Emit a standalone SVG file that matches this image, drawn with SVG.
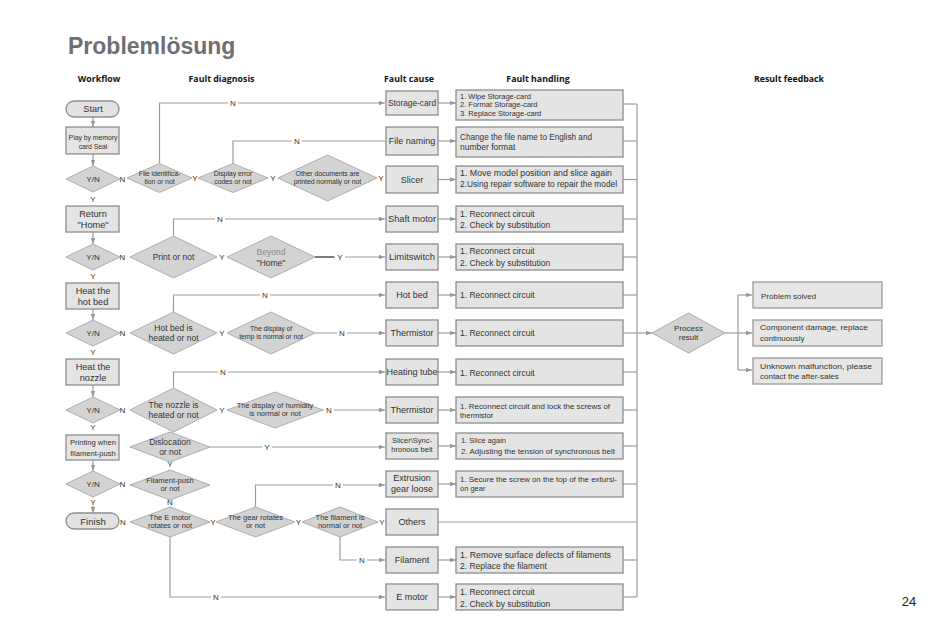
<svg xmlns="http://www.w3.org/2000/svg" width="950" height="633" viewBox="0 0 950 633">
<defs>
<marker id="ar" viewBox="0 0 8 6" refX="8" refY="3" markerWidth="6" markerHeight="4.5" orient="auto" markerUnits="userSpaceOnUse">
<path d="M0,0 L8,3 L0,6 z" fill="#999"/>
</marker>
<style>
.box{fill:#e4e4e4;stroke:#8e8e8e;stroke-width:1.3}
.rbox{fill:#e6e6e6;stroke:#9a9a9a;stroke-width:1.3}
.pill{fill:#e2e2e2;stroke:#8e8e8e;stroke-width:1.3}
.dia{fill:#d3d3d3;stroke:#adadad;stroke-width:1}
.ln{stroke:#9c9c9c;stroke-width:1.2;fill:none}
.gap{fill:#fff}
.t{font-family:"Liberation Sans",Arial,sans-serif;fill:#333;font-size:8px;text-anchor:middle}
.l{text-anchor:start}
.s{font-size:7px;letter-spacing:-0.1px}
.m{font-size:7.5px}
.b{font-size:8.5px}
.w{font-size:9.2px}
.c{font-size:9px}
.h{font-size:8.5px}
.lb{font-family:"Liberation Sans",Arial,sans-serif;fill:#333;font-size:8px;text-anchor:middle}
.hd{font-family:"Open Sans","DejaVu Sans",sans-serif;font-weight:bold;font-size:8.8px;fill:#111;text-anchor:middle}
</style>
</defs>
<rect width="950" height="633" fill="#fff"/>
<text x="68" y="53.5" font-family="Liberation Sans,Arial,sans-serif" font-weight="bold" font-size="23" fill="#707070">Problemlösung</text>
<g id="headers">
<text class="hd" x="99" y="82">Workflow</text>
<text class="hd" x="221.5" y="82">Fault diagnosis</text>
<text class="hd" x="409" y="82">Fault cause</text>
<text class="hd" x="538" y="82">Fault handling</text>
<text class="hd" x="789" y="82">Result  feedback</text>
</g>

<g id="connectors">
<line class="ln" x1="93" y1="117" x2="93" y2="127" marker-end="url(#ar)"/>
<line class="ln" x1="93" y1="154" x2="93" y2="166" marker-end="url(#ar)"/>
<line class="ln" x1="93" y1="232" x2="93" y2="244" marker-end="url(#ar)"/>
<line class="ln" x1="93" y1="309" x2="93" y2="320" marker-end="url(#ar)"/>
<line class="ln" x1="93" y1="385" x2="93" y2="397" marker-end="url(#ar)"/>
<line class="ln" x1="93" y1="460" x2="93" y2="471" marker-end="url(#ar)"/>
<line class="ln" x1="93" y1="506" x2="93" y2="513" marker-end="url(#ar)"/>
<polyline class="ln" points="159.5,163.5 159.5,103 385,103" marker-end="url(#ar)"/>
<polyline class="ln" points="233,163.5 233,141 385,141"/>
<polyline class="ln" points="173.5,236 173.5,219 385,219" marker-end="url(#ar)"/>
<line class="ln" x1="315" y1="257" x2="385" y2="257" marker-end="url(#ar)"/>
<line stroke="#666" stroke-width="1.6" x1="315" y1="257" x2="334" y2="257"/>
<polyline class="ln" points="173.5,312 173.5,295 385,295" marker-end="url(#ar)"/>
<line class="ln" x1="315" y1="333" x2="385" y2="333" marker-end="url(#ar)"/>
<polyline class="ln" points="173.5,388 173.5,372 385,372" marker-end="url(#ar)"/>
<line class="ln" x1="323" y1="410" x2="385" y2="410" marker-end="url(#ar)"/>
<line class="ln" x1="210" y1="447" x2="385" y2="447" marker-end="url(#ar)"/>
<polyline class="ln" points="255.5,507 255.5,485 385,485" marker-end="url(#ar)"/>
<polyline class="ln" points="340,537 340,560 385,560" marker-end="url(#ar)"/>
<polyline class="ln" points="170,537 170,597 385,597" marker-end="url(#ar)"/>
<line class="ln" x1="438" y1="103" x2="456" y2="103" marker-end="url(#ar)"/>
<line class="ln" x1="438" y1="141" x2="456" y2="141" marker-end="url(#ar)"/>
<line class="ln" x1="438" y1="179.5" x2="456" y2="179.5" marker-end="url(#ar)"/>
<line class="ln" x1="438" y1="219" x2="456" y2="219" marker-end="url(#ar)"/>
<line class="ln" x1="438" y1="257" x2="456" y2="257" marker-end="url(#ar)"/>
<line class="ln" x1="438" y1="295" x2="456" y2="295" marker-end="url(#ar)"/>
<line class="ln" x1="438" y1="333" x2="456" y2="333" marker-end="url(#ar)"/>
<line class="ln" x1="438" y1="372" x2="456" y2="372" marker-end="url(#ar)"/>
<line class="ln" x1="438" y1="410" x2="456" y2="410" marker-end="url(#ar)"/>
<line class="ln" x1="438" y1="446" x2="456" y2="446" marker-end="url(#ar)"/>
<line class="ln" x1="438" y1="484" x2="456" y2="484" marker-end="url(#ar)"/>
<line class="ln" x1="438" y1="522" x2="637" y2="522"/>
<line class="ln" x1="438" y1="560" x2="456" y2="560" marker-end="url(#ar)"/>
<line class="ln" x1="438" y1="597" x2="456" y2="597" marker-end="url(#ar)"/>
<line class="ln" x1="637" y1="104" x2="637" y2="597"/>
<line class="ln" x1="623" y1="104" x2="637" y2="104"/>
<line class="ln" x1="623" y1="141" x2="637" y2="141"/>
<line class="ln" x1="623" y1="179.5" x2="637" y2="179.5"/>
<line class="ln" x1="623" y1="219" x2="637" y2="219"/>
<line class="ln" x1="623" y1="257" x2="637" y2="257"/>
<line class="ln" x1="623" y1="295" x2="637" y2="295"/>
<line class="ln" x1="623" y1="333" x2="637" y2="333"/>
<line class="ln" x1="623" y1="372" x2="637" y2="372"/>
<line class="ln" x1="623" y1="410" x2="637" y2="410"/>
<line class="ln" x1="623" y1="446" x2="637" y2="446"/>
<line class="ln" x1="623" y1="484" x2="637" y2="484"/>
<line class="ln" x1="623" y1="560" x2="637" y2="560"/>
<line class="ln" x1="623" y1="597" x2="637" y2="597"/>
<line class="ln" x1="637" y1="333" x2="652" y2="333" marker-end="url(#ar)"/>
<line class="ln" x1="725" y1="333" x2="738" y2="333"/>
<line class="ln" x1="738" y1="295" x2="738" y2="370"/>
<line class="ln" x1="738" y1="295" x2="752" y2="295" marker-end="url(#ar)"/>
<line class="ln" x1="738" y1="333" x2="752" y2="333" marker-end="url(#ar)"/>
<line class="ln" x1="738" y1="370" x2="752" y2="370" marker-end="url(#ar)"/>
<rect class="gap" x="228" y="99" width="10" height="8"/>
<rect class="gap" x="292" y="137" width="10" height="8"/>
<rect class="gap" x="215" y="215" width="10" height="8"/>
<rect class="gap" x="335" y="253" width="10" height="8"/>
<rect class="gap" x="260" y="291" width="10" height="8"/>
<rect class="gap" x="337" y="329" width="10" height="8"/>
<rect class="gap" x="218" y="368" width="10" height="8"/>
<rect class="gap" x="324" y="406" width="10" height="8"/>
<rect class="gap" x="262" y="443" width="10" height="8"/>
<rect class="gap" x="333" y="481" width="10" height="8"/>
<rect class="gap" x="357" y="556" width="10" height="8"/>
<rect class="gap" x="211" y="593" width="10" height="8"/>
<text class="lb" x="233" y="106">N</text>
<text class="lb" x="297" y="144">N</text>
<text class="lb" x="220" y="222">N</text>
<text class="lb" x="340" y="260">Y</text>
<text class="lb" x="265" y="298">N</text>
<text class="lb" x="342" y="336">N</text>
<text class="lb" x="223" y="375">N</text>
<text class="lb" x="329" y="413">N</text>
<text class="lb" x="267" y="450">Y</text>
<text class="lb" x="338" y="488">N</text>
<text class="lb" x="362" y="563">N</text>
<text class="lb" x="216" y="600">N</text>
<text class="lb" x="93" y="202">Y</text>
<text class="lb" x="93" y="279">Y</text>
<text class="lb" x="93" y="355">Y</text>
<text class="lb" x="93" y="430">Y</text>
<text class="lb" x="93" y="505">Y</text>
<text class="lb" x="122.5" y="182">N</text>
<text class="lb" x="122.5" y="260">N</text>
<text class="lb" x="122.5" y="336">N</text>
<text class="lb" x="122.5" y="413">N</text>
<text class="lb" x="122.5" y="487">N</text>
<text class="lb" x="123" y="525">N</text>
<text class="lb" x="195" y="181">Y</text>
<text class="lb" x="273" y="181">Y</text>
<text class="lb" x="381" y="181">Y</text>
<text class="lb" x="222" y="260">Y</text>
<text class="lb" x="222" y="336">Y</text>
<text class="lb" x="222" y="413">Y</text>
<text class="lb" x="170" y="467">Y</text>
<text class="lb" x="170" y="505">N</text>
<text class="lb" x="213" y="525">Y</text>
<text class="lb" x="298.5" y="525">Y</text>
<text class="lb" x="382" y="525">Y</text>
</g>

<g id="start"><rect class="pill" x="66" y="101" width="53" height="16" rx="8"/><text class="t w" x="93" y="112.3">Start</text></g>
<g id="play"><rect class="box" x="66" y="127" width="53" height="27"/><text class="t s" x="93" y="139.8">Play by memory</text><text class="t s" x="93" y="148.6">card Seal</text></g>
<g id="yn1"><polygon class="dia" points="66,179 93,166 120,179 93,192"/><text class="t" x="93" y="182">Y/N</text></g>
<g id="home"><rect class="box" x="66" y="206" width="53" height="26"/><text class="t w" x="93" y="216.5">Return</text><text class="t w" x="93" y="228">"Home"</text></g>
<g id="yn2"><polygon class="dia" points="66,257 93,244 120,257 93,270"/><text class="t" x="93" y="260">Y/N</text></g>
<g id="heatbed"><rect class="box" x="66" y="283" width="53" height="26"/><text class="t w" x="93" y="293.5">Heat the</text><text class="t w" x="93" y="305">hot bed</text></g>
<g id="yn3"><polygon class="dia" points="66,333 93,320 120,333 93,346"/><text class="t" x="93" y="336">Y/N</text></g>
<g id="heatnozzle"><rect class="box" x="66" y="359" width="53" height="26"/><text class="t w" x="93" y="369.5">Heat the</text><text class="t w" x="93" y="381">nozzle</text></g>
<g id="yn4"><polygon class="dia" points="66,410 93,397 120,410 93,423"/><text class="t" x="93" y="413">Y/N</text></g>
<g id="printing"><rect class="box" x="66" y="435" width="53" height="25"/><text class="t" x="93" y="445" style="font-size:7.6px">Printing when</text><text class="t" x="93" y="455.5" style="font-size:7.6px">filament-push</text></g>
<g id="yn5"><polygon class="dia" points="66,484 93,471 120,484 93,497"/><text class="t" x="93" y="487">Y/N</text></g>
<g id="finish"><rect class="pill" x="66" y="513" width="53" height="16" rx="8"/><text class="t" x="93" y="524.5" style="font-size:9.6px">Finish</text></g>

<g id="d-file"><polygon class="dia" points="127,178 159.5,163.5 192,178 159.5,192.5"/><text class="t s" x="159.5" y="175.8">File identifica-</text><text class="t s" x="159.5" y="184.2">tion or not</text></g>
<g id="d-display"><polygon class="dia" points="198,178 233,163.5 268,178 233,192.5"/><text class="t s" x="233" y="175.8">Display error</text><text class="t s" x="233" y="184.2">codes or not</text></g>
<g id="d-other"><polygon class="dia" points="278,178 327.5,155 377,178 327.5,201"/><text class="t s" x="327.5" y="175.8">Other documents are</text><text class="t s" x="327.5" y="184.2">printed normally or not</text></g>
<g id="d-print"><polygon class="dia" points="130,257 173.5,236 217,257 173.5,278"/><text class="t b" x="173.5" y="260">Print or not</text></g>
<g id="d-beyond"><polygon class="dia" points="227,257 271,236 315,257 271,278"/><text class="t b" x="271" y="254.5" style="fill:#8a8a8a">Beyond</text><text class="t b" x="271" y="266">"Home"</text></g>
<g id="d-hotbed"><polygon class="dia" points="130,333 173.5,312 217,333 173.5,354"/><text class="t b" x="173.5" y="330.5">Hot bed is</text><text class="t b" x="173.5" y="340.5">heated or not</text></g>
<g id="d-temp"><polygon class="dia" points="227,333 271,312 315,333 271,354"/><text class="t s" x="271" y="330.8">The display of</text><text class="t s" x="271" y="339.2">temp is normal or not</text></g>
<g id="d-nozzle"><polygon class="dia" points="130,410 173.5,388 217,410 173.5,432"/><text class="t b" x="173.5" y="407.5">The nozzle is</text><text class="t b" x="173.5" y="417.5">heated or not</text></g>
<g id="d-humidity"><polygon class="dia" points="227,410 275,392 323,410 275,428"/><text class="t m" x="275" y="407.5">The display of humidity</text><text class="t m" x="275" y="416">is normal or not</text></g>
<g id="d-disloc"><polygon class="dia" points="130,447 170,432 210,447 170,462"/><text class="t b" x="170" y="444.5">Dislocation</text><text class="t b" x="170" y="454.5">or not</text></g>
<g id="d-filpush"><polygon class="dia" points="130,485 170,470 210,485 170,500"/><text class="t m" x="170" y="482.5">Filament-push</text><text class="t m" x="170" y="491.2">or not</text></g>
<g id="d-emotor"><polygon class="dia" points="130,522 170,507 210,522 170,537"/><text class="t m" x="170" y="519.5">The E motor</text><text class="t m" x="170" y="528.2">rotates or not</text></g>
<g id="d-gear"><polygon class="dia" points="216,522 255.5,507 295,522 255.5,537"/><text class="t m" x="255.5" y="519.5">The gear rotates</text><text class="t m" x="255.5" y="528.2">or not</text></g>
<g id="d-filnorm"><polygon class="dia" points="302,522 340,507 378,522 340,537"/><text class="t m" x="340" y="519.5">The filament is</text><text class="t m" x="340" y="528.2">normal or not</text></g>

<g id="c-storage"><rect class="box" x="386" y="91" width="52" height="24"/><text class="t c" x="412" y="106" textLength="48" lengthAdjust="spacingAndGlyphs">Storage-card</text></g>
<g id="c-filenaming"><rect class="box" x="386" y="127" width="52" height="28"/><text class="t c" x="412" y="144.3">File naming</text></g>
<g id="c-slicer"><rect class="box" x="386" y="166" width="52" height="27"/><text class="t c" x="412" y="182.8">Slicer</text></g>
<g id="c-shaft"><rect class="box" x="386" y="206" width="52" height="26"/><text class="t c" x="412" y="222.2" textLength="48" lengthAdjust="spacingAndGlyphs">Shaft motor</text></g>
<g id="c-limit"><rect class="box" x="386" y="244" width="52" height="26"/><text class="t c" x="412" y="260.2" textLength="46" lengthAdjust="spacingAndGlyphs">Limitswitch</text></g>
<g id="c-hotbed"><rect class="box" x="386" y="282" width="52" height="26"/><text class="t c" x="412" y="298.2">Hot bed</text></g>
<g id="c-thermistor1"><rect class="box" x="386" y="320" width="52" height="26"/><text class="t c" x="412" y="336.2">Thermistor</text></g>
<g id="c-heating"><rect class="box" x="386" y="359" width="52" height="26"/><text class="t c" x="412" y="375.2" textLength="51" lengthAdjust="spacingAndGlyphs">Heating tube</text></g>
<g id="c-thermistor2"><rect class="box" x="386" y="397" width="52" height="26"/><text class="t c" x="412" y="413.2">Thermistor</text></g>
<g id="c-slicersync"><rect class="box" x="386" y="433" width="52" height="26"/><text class="t m" x="412" y="443">Slicer\Sync-</text><text class="t m" x="412" y="451.5">hronous belt</text></g>
<g id="c-extrusion"><rect class="box" x="386" y="471" width="52" height="26"/><text class="t c" x="412" y="481.3">Extrusion</text><text class="t c" x="412" y="491.5">gear loose</text></g>
<g id="c-others"><rect class="box" x="386" y="509" width="52" height="26"/><text class="t c" x="412" y="525.2">Others</text></g>
<g id="c-filament"><rect class="box" x="386" y="547" width="52" height="26"/><text class="t c" x="412" y="563.2">Filament</text></g>
<g id="c-emotor"><rect class="box" x="386" y="584" width="52" height="26"/><text class="t c" x="412" y="600.2">E motor</text></g>

<g id="h-storage"><rect class="box" x="456" y="90" width="167" height="30"/><text class="t l m" x="460" y="98.8">1. Wipe Storage-card</text><text class="t l m" x="460" y="107.2">2. Format Storage-card</text><text class="t l m" x="460" y="115.6">3. Replace Storage-card</text></g>
<g id="h-filenaming"><rect class="box" x="456" y="127" width="167" height="30"/><text class="t l h" x="460" y="140" textLength="132" lengthAdjust="spacingAndGlyphs">Change the file name to English and</text><text class="t l h" x="460" y="150.2">number format</text></g>
<g id="h-slicer"><rect class="box" x="456" y="166" width="167" height="27"/><text class="t l h" x="460" y="176" textLength="152" lengthAdjust="spacingAndGlyphs">1. Move model position and slice again</text><text class="t l h" x="460" y="187" textLength="157" lengthAdjust="spacingAndGlyphs">2.Using repair software to repair the model</text></g>
<g id="h-shaft"><rect class="box" x="456" y="206" width="167" height="26"/><text class="t l h" x="460" y="216.5">1. Reconnect circuit</text><text class="t l h" x="460" y="228">2. Check by substitution</text></g>
<g id="h-limit"><rect class="box" x="456" y="244" width="167" height="26"/><text class="t l h" x="460" y="254">1. Reconnect circuit</text><text class="t l h" x="460" y="265.5">2. Check by substitution</text></g>
<g id="h-hotbed"><rect class="box" x="456" y="282" width="167" height="26"/><text class="t l h" x="460" y="298.2">1. Reconnect circuit</text></g>
<g id="h-thermistor1"><rect class="box" x="456" y="320" width="167" height="26"/><text class="t l h" x="460" y="336">1. Reconnect circuit</text></g>
<g id="h-heating"><rect class="box" x="456" y="359" width="167" height="26"/><text class="t l h" x="460" y="375.5">1. Reconnect circuit</text></g>
<g id="h-thermistor2"><rect class="box" x="456" y="397" width="167" height="26"/><text class="t l m" x="460" y="409.2" textLength="150" lengthAdjust="spacingAndGlyphs">1. Reconnect circuit and lock the screws of</text><text class="t l m" x="460" y="417.7">thermistor</text></g>
<g id="h-slicersync"><rect class="box" x="456" y="433" width="167" height="26"/><text class="t l m" x="461" y="443">1. Slice again</text><text class="t l m" x="461" y="453.5" textLength="154" lengthAdjust="spacingAndGlyphs">2. Adjusting the tension of synchronous belt</text></g>
<g id="h-extrusion"><rect class="box" x="456" y="471" width="167" height="26"/><text class="t l m" x="460" y="482.2" textLength="157" lengthAdjust="spacingAndGlyphs">1. Secure the screw on the top of the extursi-</text><text class="t l m" x="460" y="490.7">on gear</text></g>
<g id="h-filament"><rect class="box" x="456" y="547" width="167" height="26"/><text class="t l h" x="460" y="557.5" textLength="151" lengthAdjust="spacingAndGlyphs">1. Remove surface defects of filaments</text><text class="t l h" x="460" y="569">2. Replace the filament</text></g>
<g id="h-emotor"><rect class="box" x="456" y="584" width="167" height="26"/><text class="t l h" x="460" y="595">1. Reconnect circuit</text><text class="t l h" x="460" y="606.5">2. Check by substitution</text></g>

<g id="process"><polygon class="dia" points="652,333 688.5,313 725,333 688.5,353"/><text class="t" x="688.5" y="331">Process</text><text class="t" x="688.5" y="340">result</text></g>
<g id="r-solved"><rect class="rbox" x="753" y="282" width="129" height="26"/><text class="t l" x="761" y="298.5">Problem solved</text></g>
<g id="r-damage"><rect class="rbox" x="753" y="320" width="129" height="26"/><text class="t l" x="760" y="330" textLength="108" lengthAdjust="spacingAndGlyphs">Component damage, replace</text><text class="t l" x="760" y="341">continuously</text></g>
<g id="r-unknown"><rect class="rbox" x="753" y="358" width="129" height="26"/><text class="t l" x="760" y="368.5" textLength="112" lengthAdjust="spacingAndGlyphs">Unknown malfunction, please</text><text class="t l" x="760" y="379">contact the after-sales</text></g>

<text x="909" y="606" font-family="Liberation Sans,Arial,sans-serif" font-size="13" fill="#222" text-anchor="middle">24</text>
</svg>
